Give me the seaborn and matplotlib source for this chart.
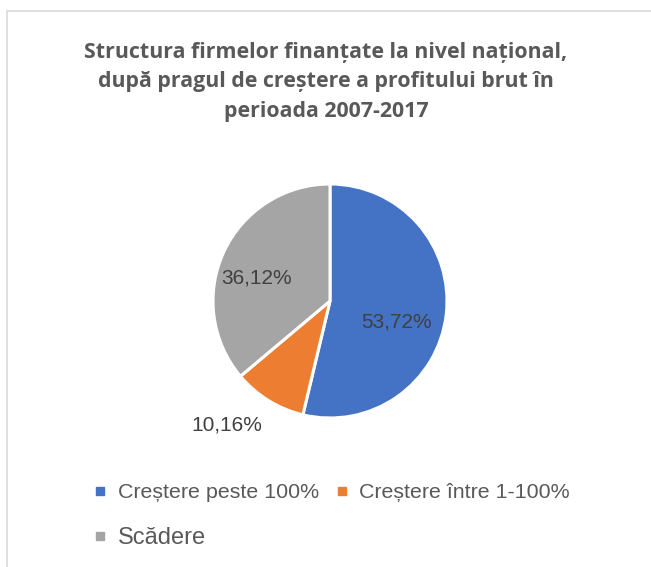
import matplotlib
matplotlib.use("Agg")
import matplotlib.pyplot as plt
import seaborn as sns
import numpy as np
from matplotlib.lines import Line2D
from matplotlib.patches import Rectangle

categories = ["Creștere peste 100%", "Creștere între 1-100%", "Scădere"]
values = [53.72, 10.16, 36.12]
value_labels = ["53,72%", "10,16%", "36,12%"]
colors = ["#4472C4", "#ED7D31", "#A5A5A5"]
title = "Structura firmelor finanțate la nivel național,\ndupă pragul de creștere a profitului brut în\nperioada 2007-2017"

# label layout: (radius factor, angle offset in degrees) per slice
label_layout = [(0.60, -11.0), (1.38, -8.0), (0.66, 7.5)]

sns.set_theme(style="white")
plt.rcParams["font.family"] = ["Liberation Sans", "DejaVu Sans"]

W, H = 651, 567
fig = plt.figure(figsize=(W / 100, H / 100), dpi=100)
fig.patch.set_facecolor("white")

cx, cy, r = 330, 301, 117
ax = fig.add_axes([(cx - r) / W, (H - cy - r) / H, 2 * r / W, 2 * r / H])
wedges, _ = ax.pie(values, colors=colors, startangle=90, counterclock=False,
                   radius=1.0, wedgeprops=dict(edgecolor="white", linewidth=2.2))
ax.set_xlim(-1, 1)
ax.set_ylim(-1, 1)
ax.set_aspect("auto")
ax.axis("off")

for w, lab, (rf, dang) in zip(wedges, value_labels, label_layout):
    ang = np.deg2rad((w.theta1 + w.theta2) / 2 + dang)
    ax.text(rf * np.cos(ang), rf * np.sin(ang), lab, ha="center", va="center",
            fontsize=15, color="#404040", clip_on=False)

fig.text(326 / W, 1 - 82 / H, title, ha="center", va="center",
         fontsize=15.4, fontweight="bold", color="#595959",
         family=["Open Sans", "DejaVu Sans"], linespacing=1.56)

handles = [Line2D([0], [0], marker="s", color="none", markerfacecolor=c,
                  markeredgecolor=c, markersize=6) for c in colors]
order = [0, 2, 1]
leg = fig.legend([handles[i] for i in order], [categories[i] for i in order],
                 ncol=2, loc="upper left", bbox_to_anchor=(94 / W, 1 - 483 / H),
                 frameon=False, fontsize=15.4, handlelength=0.6,
                 handletextpad=0.5, columnspacing=0.78, labelspacing=1.15,
                 borderpad=0, borderaxespad=0)
for t in leg.get_texts():
    t.set_color("#595959")
    if t.get_text() == "Scădere":
        t.set_fontsize(17)

fig.add_artist(Rectangle((7 / W, -0.1), 1.2, 1.1 - 10.5 / H, transform=fig.transFigure,
                         fill=False, edgecolor="#D9D9D9", linewidth=1.2))

fig.savefig("out.png", dpi=100, facecolor="white")
